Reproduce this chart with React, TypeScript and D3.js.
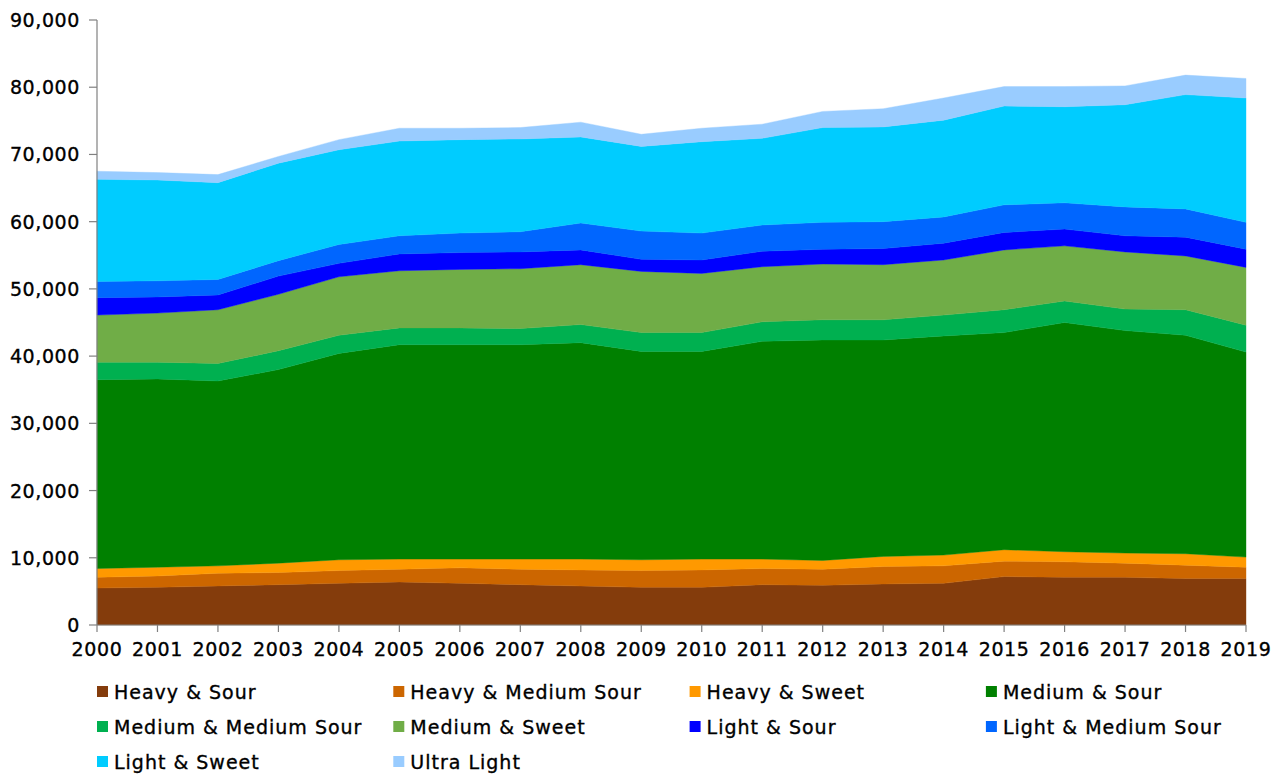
import React from "react";
import * as d3 from "d3";

const years = [2000, 2001, 2002, 2003, 2004, 2005, 2006, 2007, 2008, 2009, 2010, 2011, 2012, 2013, 2014, 2015, 2016, 2017, 2018, 2019];

const heavySour = [5500, 5600, 5800, 6000, 6200, 6400, 6200, 6000, 5800, 5600, 5600, 6000, 5900, 6100, 6200, 7200, 7100, 7100, 6900, 6900];
const heavyMediumSour = [1600, 1700, 1900, 1800, 1900, 1900, 2300, 2300, 2400, 2500, 2600, 2400, 2400, 2600, 2600, 2300, 2300, 2100, 2000, 1700];
const heavySweet = [1300, 1300, 1100, 1400, 1600, 1500, 1300, 1500, 1600, 1600, 1600, 1400, 1300, 1500, 1600, 1700, 1500, 1500, 1700, 1500];
const mediumSour = [28100, 28000, 27500, 28800, 30700, 31900, 31900, 31900, 32200, 31000, 30900, 32400, 32800, 32200, 32600, 32300, 34100, 33100, 32500, 30500];
const mediumMediumSour = [2600, 2500, 2600, 2800, 2700, 2500, 2500, 2400, 2700, 2800, 2800, 2900, 3000, 3000, 3100, 3400, 3200, 3200, 3800, 4000];
const mediumSweet = [7000, 7300, 8000, 8400, 8700, 8500, 8700, 8900, 8900, 9100, 8800, 8200, 8300, 8200, 8200, 8900, 8200, 8500, 8000, 8600];
const lightSour = [2600, 2400, 2200, 2700, 2000, 2500, 2500, 2500, 2200, 1800, 2000, 2300, 2200, 2400, 2500, 2600, 2500, 2400, 2800, 2700];
const lightMediumSour = [2400, 2400, 2300, 2300, 2800, 2700, 2900, 3000, 4000, 4200, 4000, 3900, 4000, 4000, 3900, 4100, 3900, 4300, 4200, 4000];
const lightSweet = [15200, 15000, 14400, 14500, 14100, 14100, 13900, 13800, 12800, 12600, 13600, 12900, 14100, 14100, 14400, 14700, 14300, 15200, 17000, 18500];
const ultraLight = [1200, 1100, 1200, 1000, 1500, 1900, 1700, 1700, 2200, 1800, 2000, 2100, 2400, 2700, 3300, 2900, 3000, 2800, 2900, 2900];

const seriesNames = [
  "Heavy & Sour",
  "Heavy & Medium Sour",
  "Heavy & Sweet",
  "Medium & Sour",
  "Medium & Medium Sour",
  "Medium & Sweet",
  "Light & Sour",
  "Light & Medium Sour",
  "Light & Sweet",
  "Ultra Light",
];
const seriesValues = [heavySour, heavyMediumSour, heavySweet, mediumSour, mediumMediumSour, mediumSweet, lightSour, lightMediumSour, lightSweet, ultraLight];
const seriesColors = ["#843C0C", "#CC6600", "#FF9900", "#008000", "#00B050", "#70AD47", "#0000FF", "#0066FF", "#00CCFF", "#99CCFF"];

const yTicks = [0, 10000, 20000, 30000, 40000, 50000, 60000, 70000, 80000, 90000];

const W = 1282;
const H = 778;
const left = 97;
const right = 1246;
const top = 20;
const bottom = 625;
const FONT = "'DejaVu Sans', sans-serif";

export default function App() {
  const rows = years.map((yr, i) => {
    const r: Record<string, number> = { year: yr };
    seriesNames.forEach((n, k) => (r[n] = seriesValues[k][i]));
    return r;
  });
  const stacked = d3.stack<Record<string, number>>().keys(seriesNames)(rows);

  const x = d3.scaleLinear().domain([years[0], years[years.length - 1]]).range([left, right]);
  const y = d3.scaleLinear().domain([0, 90000]).range([bottom, top]);
  const area = d3
    .area<d3.SeriesPoint<Record<string, number>>>()
    .x((d) => x(d.data.year))
    .y0((d) => y(d[0]))
    .y1((d) => y(d[1]));

  const fmt = d3.format(",");
  const colW = 296.3;
  const rowH = 35;
  const textStyle = { stroke: "#000", strokeWidth: 0.35 };

  return (
    <svg width={W} height={H} style={{ position: "absolute", left: 0, top: 0, background: "#fff" }}>
      {stacked.map((s, k) => (
        <path key={k} d={area(s) || ""} fill={seriesColors[k]} stroke={seriesColors[k]} strokeWidth={0.4} />
      ))}
      {/* y axis */}
      <line x1={left} x2={left} y1={top} y2={bottom} stroke="#808080" strokeWidth={1.2} />
      {yTicks.map((t) => (
        <g key={t}>
          <line x1={left - 8} x2={left} y1={y(t)} y2={y(t)} stroke="#808080" strokeWidth={1.2} />
          <text
            x={80}
            y={y(t)}
            textAnchor="end"
            dominantBaseline="central"
            fontFamily={FONT}
            fontSize={19}
            letterSpacing={0.6}
            fill="#000"
            style={textStyle}
          >
            {fmt(t)}
          </text>
        </g>
      ))}
      {/* x axis */}
      <line x1={left} x2={right} y1={bottom} y2={bottom} stroke="#808080" strokeWidth={1.2} />
      {years.map((yr) => (
        <g key={yr}>
          <line x1={x(yr)} x2={x(yr)} y1={bottom} y2={bottom + 7} stroke="#808080" strokeWidth={1.2} />
          <text
            x={x(yr)}
            y={649}
            textAnchor="middle"
            dominantBaseline="central"
            fontFamily={FONT}
            fontSize={19}
            letterSpacing={0.6}
            fill="#000"
            style={textStyle}
          >
            {yr}
          </text>
        </g>
      ))}
      {/* legend */}
      {seriesNames.map((n, k) => {
        const col = k % 4;
        const row = Math.floor(k / 4);
        const lx = 97 + col * colW;
        const ly = 691.5 + row * rowH;
        return (
          <g key={n}>
            <rect x={lx} y={ly - 5.5} width={11} height={11} fill={seriesColors[k]} />
            <text
              x={lx + 17}
              y={ly}
              dominantBaseline="central"
              fontFamily={FONT}
              fontSize={19}
              letterSpacing={1}
              fill="#000"
              style={textStyle}
            >
              {n}
            </text>
          </g>
        );
      })}
    </svg>
  );
}
